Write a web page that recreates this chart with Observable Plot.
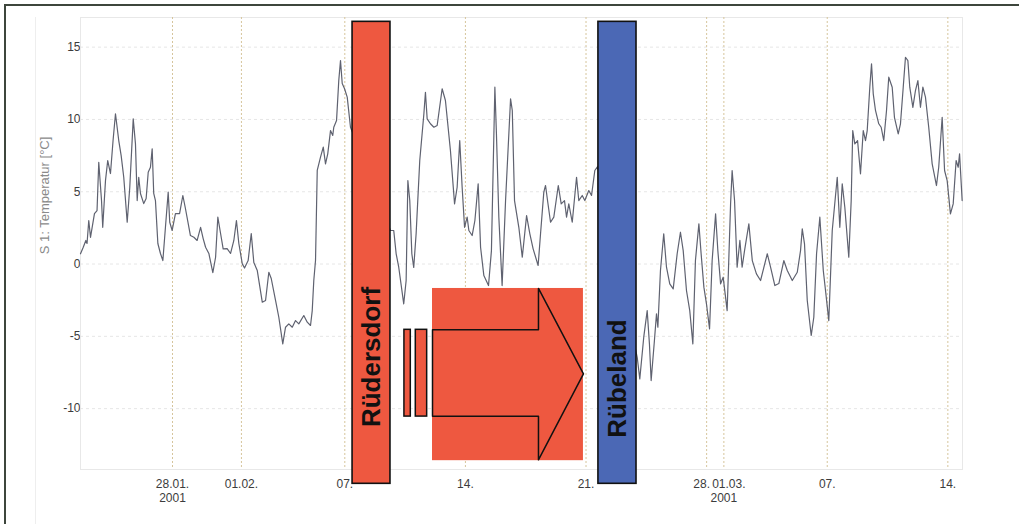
<!DOCTYPE html>
<html><head><meta charset="utf-8">
<script src="https://cdn.jsdelivr.net/npm/d3@7"></script>
<script src="https://cdn.jsdelivr.net/npm/@observablehq/plot@0.6"></script>
<style>
html,body{margin:0;padding:0;background:#fff;}
#wrap{position:relative;width:1019px;height:524px;overflow:hidden;font-family:"Liberation Sans",Arial,sans-serif;}
#wrap svg{position:absolute;left:0;top:0;}
#border{position:absolute;left:4px;top:4px;right:0;bottom:0;border-top:2px solid #3d463c;border-left:2px solid #3d463c;pointer-events:none;}
#guide{position:absolute;left:35px;top:17px;width:0;height:507px;border-left:1px solid #eeeeee;}
</style></head><body><div id="wrap"><div id="guide"></div><div id="border"></div></div>
<script>
// time series: day of year 2001 (fractional) and temperature in °C
const dayOfYear = [22.66,22.82,22.97,23.04,23.14,23.24,23.47,23.62,23.72,23.88,23.95,24.11,24.24,24.40,24.55,24.69,24.88,25.02,25.17,25.37,25.52,25.72,25.85,25.95,26.04,26.14,26.33,26.47,26.59,26.72,26.82,26.91,27.01,27.15,27.30,27.44,27.59,27.75,27.84,27.98,28.17,28.41,28.60,28.75,29.04,29.24,29.43,29.63,29.78,29.92,30.11,30.34,30.50,30.63,30.79,30.94,31.17,31.37,31.56,31.71,31.85,32.05,32.18,32.39,32.57,32.72,32.92,33.21,33.40,33.59,33.73,33.98,34.17,34.40,34.56,34.75,34.95,35.14,35.33,35.62,35.82,36.01,36.11,36.20,36.30,36.40,36.59,36.75,36.88,37.01,37.17,37.30,37.36,37.52,37.65,37.75,37.85,37.98,38.14,38.33,
40.65,40.84,40.98,41.13,41.42,41.56,41.66,41.77,41.89,42.00,42.14,42.35,42.59,42.68,42.78,42.97,43.17,43.36,43.65,43.84,44.13,44.37,44.52,44.67,44.81,44.95,45.10,45.20,45.39,45.55,45.74,45.88,46.07,46.34,46.51,46.71,46.80,46.94,47.13,47.33,47.62,47.72,47.85,48.10,48.30,48.55,48.74,48.93,49.22,49.36,49.55,49.65,49.78,49.94,50.13,50.39,50.56,50.75,50.87,51.00,51.20,51.45,51.58,51.78,51.93,52.16,52.32,52.51,52.67,
54.97,55.12,55.35,55.55,55.68,55.78,55.97,56.09,56.17,56.32,56.51,56.67,56.86,57.06,57.29,57.48,57.64,57.83,58.02,58.20,58.35,58.55,58.68,58.84,58.99,59.17,59.32,59.52,59.65,59.81,59.96,60.19,60.39,60.48,60.62,60.77,60.93,61.06,61.20,61.45,61.65,61.89,62.13,62.52,62.71,62.96,63.19,63.48,63.68,63.97,64.26,64.45,64.55,64.68,64.84,65.07,65.22,65.38,65.57,65.77,65.90,66.09,66.29,66.58,66.73,66.87,67.02,67.25,67.39,67.48,67.60,67.76,67.93,68.09,68.22,68.32,68.47,68.57,68.67,68.80,68.99,69.13,69.28,69.44,69.57,69.77,69.90,70.12,70.25,70.41,70.54,70.68,70.79,70.97,71.12,71.26,71.41,71.55,71.70,71.89,72.09,72.34,72.47,72.67,72.81,72.96,73.15,73.31,73.48,73.60,73.68,73.83];
const temperature = [0.71,1.16,1.63,1.42,3.01,1.85,3.49,3.70,7.04,4.39,2.54,5.77,7.16,6.26,8.54,10.39,8.54,7.50,6.00,2.89,5.31,10.04,8.31,4.39,6.00,4.88,4.18,4.53,6.35,6.69,7.97,4.88,4.39,1.42,0.73,0.24,2.54,4.97,2.89,2.32,3.49,3.49,4.74,3.84,1.97,1.85,1.63,2.54,1.76,1.16,0.73,-0.59,0.47,3.24,2.11,1.05,1.07,0.73,1.63,3.01,1.42,0.01,-0.28,0.24,2.11,0.10,-0.45,-2.64,-2.52,-0.57,-1.00,-2.52,-3.68,-5.52,-4.37,-4.14,-4.37,-3.91,-4.14,-3.56,-4.02,-4.25,-3.22,-1.14,0.24,6.47,7.39,8.08,6.93,7.62,9.23,8.89,9.46,9.92,12.69,14.07,12.48,12.14,11.54,9.46,
2.32,2.32,0.71,-0.22,-2.75,-1.14,5.77,4.39,0.71,-0.24,2.11,7.16,10.39,11.88,10.04,9.70,9.46,9.58,12.12,11.31,7.85,4.16,5.31,8.54,5.31,2.54,3.24,2.32,1.97,3.01,5.55,1.16,-0.80,-1.49,0.93,12.23,9.02,3.24,-1.49,4.39,11.42,10.62,4.39,2.54,0.47,3.35,2.09,1.05,-0.10,2.09,4.97,5.43,4.27,2.89,3.24,5.43,4.16,4.39,3.24,4.16,2.89,6.00,4.39,4.74,4.39,5.08,4.74,6.47,6.74,
-6.45,-7.94,-5.06,-3.22,-5.52,-8.06,-5.29,-3.44,-4.37,-0.45,2.09,-0.22,-1.37,-1.72,0.71,2.20,0.93,-1.83,-3.22,-5.52,0.24,2.78,0.71,-1.60,-2.75,-4.48,0.24,3.47,0.93,-1.37,-0.91,-3.22,4.16,6.47,4.39,-0.22,1.63,-0.22,0.93,2.78,0.24,-0.68,-1.14,0.71,-0.22,-1.49,-1.35,0.24,-0.45,-1.14,-0.57,0.93,2.43,1.40,-2.52,-4.94,-3.68,0.71,3.24,-0.45,-1.83,-3.91,2.32,6.00,2.54,5.55,3.93,0.47,4.39,9.23,8.31,8.54,6.24,9.23,8.54,9.23,12.23,13.85,11.77,10.62,9.70,9.46,8.54,10.62,12.92,12.23,10.15,9.00,9.70,12.23,14.30,14.07,12.23,10.84,12.00,12.69,10.84,12.23,11.54,9.46,6.93,5.43,6.69,10.15,6.47,5.77,3.47,4.16,7.16,6.69,7.62,4.39];

// axes
const xDomainDays = [22.66, 73.85];
const yDomain = [-14.21, 17.05];
const yTicks = [-10, -5, 0, 5, 10, 15];
const tickDays = [28, 32, 38, 45, 52, 59, 60, 66, 73];
const tickLabels = ["28.01.", "01.02.", "07.", "14.", "21.", "28.", "01.03.", "07.", "14."];
const tickYears = ["2001", "", "", "", "", "", "2001", "", ""];
const yTitle = "S 1: Temperatur [°C]";

// station overlays (in data units: day of year, °C)
const stations = ["Rüdersdorf", "Rübeland"];
const stationStartDay = [38.45, 52.72];
const stationEndDay = [40.65, 54.93];
const stationLabelDay = [39.55, 53.83];
const stationLabelTemp = [-6.43, -7.92];
const stationColors = ["#ee5840", "#4b68b5"];
const barTempRange = [-15.2, 16.75];

// transfer arrow (day of year, °C)
const arrowBoxDays = [43.09, 51.85];
const arrowBoxTemps = [-13.6, -1.69];
const arrowDays = [43.09, 49.24, 49.24, 51.85, 49.24, 49.24, 43.09, 43.09];
const arrowTemps = [-4.55, -4.55, -1.69, -7.59, -13.54, -10.53, -10.53, -4.55];
const stripeStartDays = [41.46, 42.12];
const stripeEndDays = [41.83, 42.78];
const stripeTemps = [-10.55, -4.55];

const toDate = d => new Date(Date.UTC(2001, 0, 1) + (d - 1) * 864e5);
const series = dayOfYear.map((d, i) => ({date: toDate(d), temp: temperature[i]}));
const ticks = tickDays.map((d, i) => ({date: toDate(d), label: tickLabels[i], year: tickYears[i]}));
const bars = stations.map((s, i) => ({name: s, x1: toDate(stationStartDay[i]), x2: toDate(stationEndDay[i]),
  lx: toDate(stationLabelDay[i]), ly: stationLabelTemp[i], color: stationColors[i]}));
const arrow = arrowDays.map((d, i) => ({date: toDate(d), temp: arrowTemps[i]}));
const stripes = stripeStartDays.map((d, i) => ({x1: toDate(d), x2: toDate(stripeEndDays[i])}));
const red = stationColors[0];
const font = '"Liberation Sans", Arial, sans-serif';
// the adjacent "28." and "01.03." labels are nudged apart a little
const crowdedLeft = ticks.filter(t => t.label === "28.");
const crowdedRight = ticks.filter(t => t.label === "01.03.");
const plainTicks = ticks.filter(t => t.label !== "28." && t.label !== "01.03.");
const tickText = {x: "date", text: "label", frameAnchor: "bottom", dy: 18.5, fill: "#3c3c3c", fontSize: 12};

const chart = Plot.plot({
  width: 1019, height: 524,
  marginTop: 17, marginBottom: 55, marginLeft: 80, marginRight: 57,
  x: {type: "utc", domain: xDomainDays.map(toDate), axis: null},
  y: {domain: yDomain, ticks: yTicks, tickSize: 0, tickPadding: 0, label: null, tickFormat: d => String(d)},
  style: {fontFamily: font, fontSize: "12px", color: "#3c3c3c", background: "transparent", overflow: "visible"},
  marks: [
    Plot.frame({stroke: "#e8e8e8"}),
    Plot.ruleY(yTicks, {stroke: "#e6e6e6", strokeDasharray: "3,3"}),
    Plot.ruleX(ticks, {x: "date", stroke: "#d6c59c", strokeDasharray: "2,2"}),
    Plot.line(series, {x: "date", y: "temp", stroke: "#5f6270", strokeWidth: 1.2}),
    Plot.rect(bars, {x1: "x1", x2: "x2", y1: barTempRange[0], y2: barTempRange[1], fill: "color", stroke: "#111", strokeWidth: 1.6}),
    Plot.rect([0], {x1: toDate(arrowBoxDays[0]), x2: toDate(arrowBoxDays[1]), y1: arrowBoxTemps[0], y2: arrowBoxTemps[1], fill: red}),
    Plot.line(arrow, {x: "date", y: "temp", stroke: "#111", strokeWidth: 1.5}),
    Plot.rect(stripes, {x1: "x1", x2: "x2", y1: stripeTemps[0], y2: stripeTemps[1], fill: red, stroke: "#111", strokeWidth: 1.5}),
    Plot.text(bars, {x: "lx", y: "ly", text: "name", rotate: -90, fontSize: 26, fontWeight: "bold", fill: "#111", fontFamily: font}),
    Plot.text(plainTicks, tickText),
    Plot.text(crowdedLeft, {...tickText, dx: -5}),
    Plot.text(crowdedRight, {...tickText, dx: 5}),
    Plot.text(ticks, {x: "date", text: "year", frameAnchor: "bottom", dy: 32, fill: "#3c3c3c", fontSize: 12}),
    Plot.text([yTitle], {frameAnchor: "left", textAnchor: "middle", rotate: -90, dx: -36, dy: -48, fill: "#8a8a8a", fontSize: 13})
  ]
});
const wrap = document.getElementById("wrap");
wrap.insertBefore(chart, wrap.firstChild);
</script>
</body></html>
